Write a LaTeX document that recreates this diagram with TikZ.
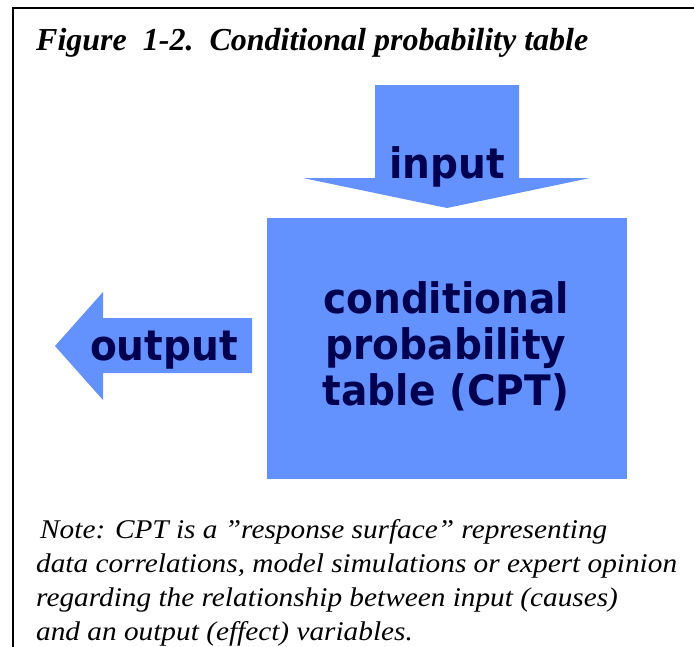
\documentclass[tikz,border=0pt]{standalone}
\usepackage{fontspec}
\setmainfont{Liberation Serif}
\newfontfamily\cptfont{DejaVu Sans}[FakeStretch=0.93]
\newfontfamily\notefont{Liberation Serif}[FakeStretch=1.085]
\definecolor{cptblue}{RGB}{99,146,255}
\definecolor{cptink}{RGB}{0,0,80}
\tikzset{
  cptfill/.style={fill=cptblue},
  cptlabel/.style={font=\cptfont\bfseries\fontsize{42}{46}\selectfont, text=cptink, inner sep=0pt, align=center},
  notetext/.style={font=\notefont\itshape\fontsize{27}{33}\selectfont, anchor=base west, inner sep=0pt},
}
\begin{document}
\begin{tikzpicture}[x=1pt,y=-1pt]
    \useasboundingbox (0,0) rectangle (694,646);
    \clip (0,0) rectangle (694,646);
    % frame
    \coordinate (frameBL) at (13,660);
    \coordinate (frameTL) at (13,8);
    \coordinate (frameTR) at (700,8);
    \draw[line width=1.5pt] (frameBL) -- (frameTL) -- (frameTR);

    \node[anchor=base west, inner sep=0pt, font=\bfseries\itshape\fontsize{32}{36}\selectfont] (title) at (36,50) {Figure\ \ 1-2.\ \ Conditional probability table};

    % input arrow
    \coordinate (inTip) at (447,208);
    \fill[cptfill] (375,85) -- (519,85) -- (519,178) -- (590,178) -- (inTip) -- (303,178) -- (375,178) -- cycle;
    \node[cptlabel, anchor=base] (input) at (447,178) {input};

    % table
    \node[cptfill, minimum width=360pt, minimum height=261pt, inner sep=0pt] (cpt) at (447,348.5) {};
    \node[cptlabel, anchor=base] (cptA) at (446,313) {conditional};
    \node[cptlabel, anchor=base] (cptB) at (446,359) {probability};
    \node[cptlabel, anchor=base] (cptC) at (446,405) {table (CPT)};

    % output arrow
    \coordinate (outTip) at (55,346);
    \fill[cptfill] (outTip) -- (103,292) -- (103,318) -- (252,318) -- (252,373) -- (103,373) -- (103,400) -- cycle;
    \node[cptlabel, anchor=base] (output) at (164,360) {output};

    % note
    \node[notetext] (note1) at (40,538) {Note: CPT is a ”response surface” representing};
    \node[notetext] (note2) at (36,572) {data correlations, model simulations or expert opinion};
    \node[notetext] (note3) at (36,606) {regarding the relationship between input (causes)};
    \node[notetext] (note4) at (36,640) {and an output (effect) variables.};
\end{tikzpicture}
\end{document}
